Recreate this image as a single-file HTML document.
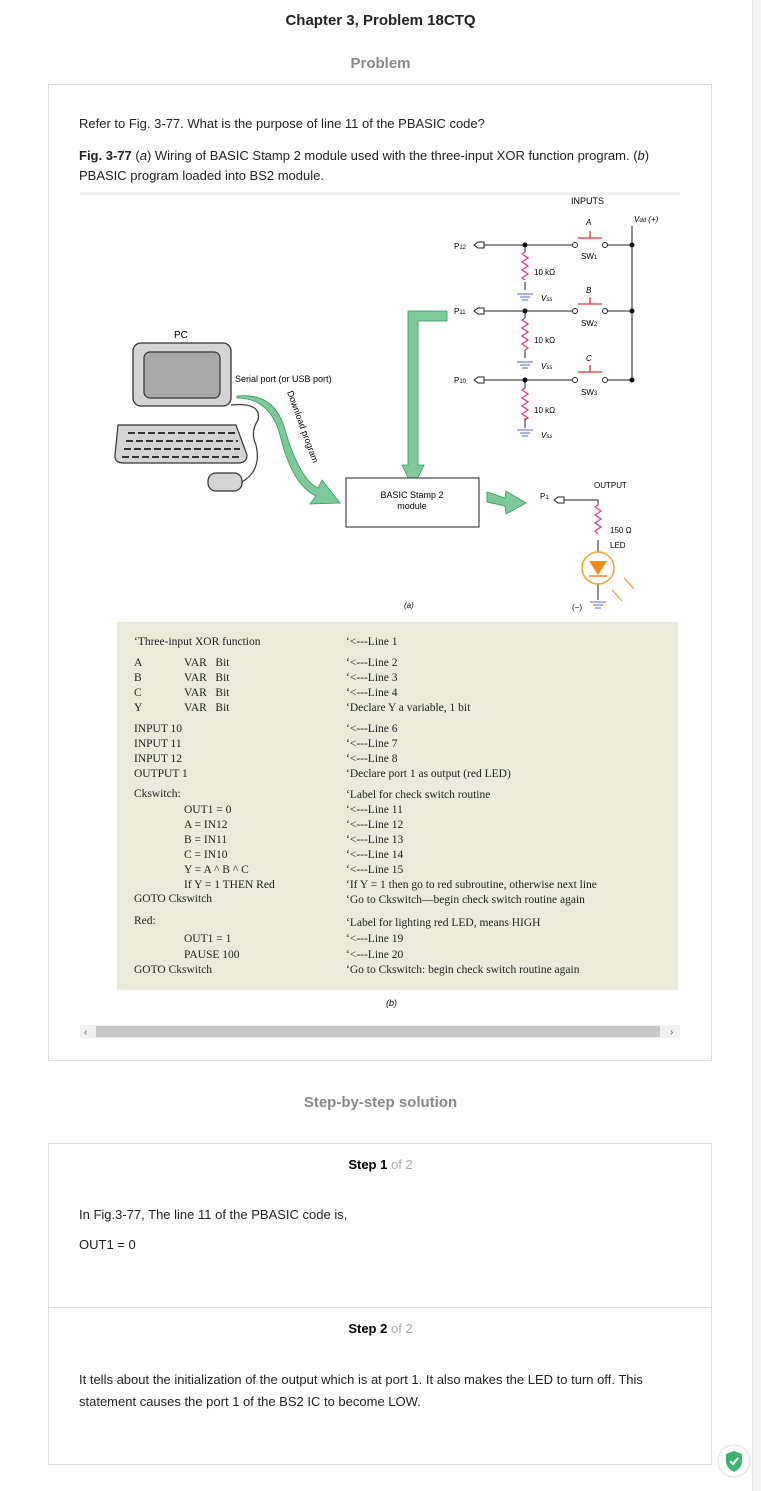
<!DOCTYPE html>
<html><head><meta charset="utf-8"><style>
body{margin:0;width:761px;height:1491px;background:#fff;font-family:"Liberation Sans",sans-serif;position:relative;overflow:hidden}
.a{position:absolute}
.code{position:absolute;font-family:"Liberation Serif",serif;font-size:11.5px;color:#222;white-space:nowrap}
</style></head><body>
<div class="a" style="left:0;top:12px;width:761px;text-align:center;font-weight:bold;font-size:15px;color:#222">Chapter 3, Problem 18CTQ</div>
<div class="a" style="left:0;top:55px;width:761px;text-align:center;font-weight:bold;font-size:15px;color:#888">Problem</div>
<div class="a" style="left:48px;top:84px;width:662px;height:975px;border:1px solid #ddd"></div>
<div class="a" style="left:79px;top:116px;font-size:13px;color:#222">Refer to Fig. 3-77. What is the purpose of line 11 of the PBASIC code?</div>
<div class="a" style="left:79px;top:146px;font-size:13px;color:#222;line-height:20px;width:600px"><b>Fig. 3-77</b> (<i>a</i>) Wiring of BASIC Stamp 2 module used with the three-input XOR function program. (<i>b</i>) PBASIC program loaded into BS2 module.</div>

<svg class="a" style="left:0;top:0" width="761" height="1060" font-family="Liberation Sans, sans-serif">
<rect x="80" y="192" width="600" height="3" fill="#f2f2f2"/>
<text x="174" y="338" font-size="10">PC</text>
<rect x="133" y="343" width="98" height="63" rx="8" fill="#d4d4d4" stroke="#333" stroke-width="1.3"/>
<rect x="144" y="352" width="76" height="46" rx="6" fill="#a8a8a8" stroke="#333" stroke-width="1.2"/>
<path d="M118 425 H236 L247 455 Q247 463 238 463 H124 Q114 463 115 455 Z" fill="#d4d4d4" stroke="#333" stroke-width="1.2"/>
<g stroke="#333" stroke-width="2" stroke-dasharray="7,3">
<line x1="128" y1="433" x2="235" y2="433"/><line x1="126" y1="441" x2="238" y2="441"/><line x1="124" y1="449" x2="240" y2="449"/><line x1="122" y1="457" x2="242" y2="457"/></g>
<rect x="208" y="473" width="34" height="18" rx="8" fill="#d4d4d4" stroke="#333" stroke-width="1.2"/>
<path d="M231 405 Q262 402 258 420 Q250 432 256 445 Q262 470 242 482" fill="none" stroke="#333" stroke-width="1.2"/>
<text x="235" y="382" font-size="9">Serial port (or USB port)</text>
<path d="M237 396 Q275 392 285 430 Q300 480 318 488 L322 480 L340 503 L310 504 L316 496 Q292 485 280 435 Q270 398 237 398 Z" fill="#7dc99a" stroke="#2e9e56" stroke-width="0.8"/>
<text transform="translate(287,392) rotate(70)" font-size="9">Download program</text>
<path d="M447 311 H408 V465 H402 L413 488 L424 465 H418 V321 H447 Z" fill="#7dc99a" stroke="#2e9e56" stroke-width="0.8"/>
<rect x="346" y="478" width="133" height="49" fill="#fff" stroke="#222" stroke-width="1"/>
<text x="412" y="498" font-size="9" text-anchor="middle">BASIC Stamp 2</text>
<text x="412" y="509" font-size="9" text-anchor="middle">module</text>
<path d="M487 492 L505 498 L506 491 L526 503 L506 514 L505 506 L487 502 Z" fill="#7dc99a" stroke="#2e9e56" stroke-width="0.8"/>
<text x="571" y="204" font-size="9">INPUTS</text>
<text x="634" y="222" font-size="8" font-style="italic">V<tspan font-size="6">dd</tspan> (+)</text>
<line x1="632" y1="226" x2="632" y2="380" stroke="#222" stroke-width="1"/>
<g font-size="8">
<text x="454" y="249">P<tspan font-size="6">12</tspan></text>
<text x="454" y="314">P<tspan font-size="6">11</tspan></text>
<text x="454" y="383">P<tspan font-size="6">10</tspan></text>
<text x="540" y="499">P<tspan font-size="6">1</tspan></text>
</g>
<g stroke="#222" stroke-width="1" fill="#fff">
<path d="M474 245 l4 -3 h6 v6 h-6 z"/><path d="M474 311 l4 -3 h6 v6 h-6 z"/><path d="M474 380 l4 -3 h6 v6 h-6 z"/><path d="M554 500 l4 -3 h6 v6 h-6 z"/>
<line x1="484" y1="245" x2="572" y2="245"/><line x1="607" y1="245" x2="632" y2="245"/>
<line x1="484" y1="311" x2="572" y2="311"/><line x1="607" y1="311" x2="632" y2="311"/>
<line x1="484" y1="380" x2="572" y2="380"/><line x1="607" y1="380" x2="632" y2="380"/>
<path d="M564 500 H598 V505" fill="none"/>
<circle cx="575" cy="245" r="2.5"/><circle cx="605" cy="245" r="2.5"/>
<circle cx="575" cy="311" r="2.5"/><circle cx="605" cy="311" r="2.5"/>
<circle cx="575" cy="380" r="2.5"/><circle cx="605" cy="380" r="2.5"/>
<line x1="525" y1="245" x2="525" y2="252"/><line x1="525" y1="282" x2="525" y2="290"/>
<line x1="525" y1="311" x2="525" y2="318"/><line x1="525" y1="350" x2="525" y2="358"/>
<line x1="525" y1="380" x2="525" y2="388"/><line x1="525" y1="418" x2="525" y2="428"/>
<line x1="598" y1="540" x2="598" y2="600"/>
</g>
<g fill="#111"><circle cx="525" cy="245" r="2.5"/><circle cx="632" cy="245" r="2.5"/><circle cx="525" cy="311" r="2.5"/><circle cx="632" cy="311" r="2.5"/><circle cx="525" cy="380" r="2.5"/><circle cx="632" cy="380" r="2.5"/></g>
<g stroke="#e0338a" stroke-width="1.2" fill="none">
<path d="M525 252 l-3 2 l6 4 l-6 4 l6 4 l-6 4 l6 4 l-6 4 l3 2"/>
<path d="M525 318 l-3 2 l6 4 l-6 4 l6 4 l-6 4 l6 4 l-6 4 l6 4 l-3 2"/>
<path d="M525 388 l-3 2 l6 4 l-6 4 l6 4 l-6 4 l6 4 l-6 4 l6 4 l-3 2"/>
<path d="M598 505 l-3 2 l6 4 l-6 4 l6 4 l-6 4 l6 4 l-6 4 l3 3"/>
</g>
<g stroke="#d33" stroke-width="1.3"><line x1="578" y1="238" x2="602" y2="238"/><line x1="590" y1="231" x2="590" y2="238"/>
<line x1="578" y1="304" x2="602" y2="304"/><line x1="590" y1="297" x2="590" y2="304"/>
<line x1="578" y1="372" x2="602" y2="372"/><line x1="590" y1="365" x2="590" y2="372"/></g>
<g font-size="8"><text x="586" y="225" font-style="italic">A</text><text x="586" y="293" font-style="italic">B</text><text x="586" y="361" font-style="italic">C</text>
<text x="581" y="259">SW<tspan font-size="6">1</tspan></text><text x="581" y="326">SW<tspan font-size="6">2</tspan></text><text x="581" y="395">SW<tspan font-size="6">3</tspan></text>
<text x="534" y="275">10 kΩ</text><text x="534" y="343">10 kΩ</text><text x="534" y="413">10 kΩ</text>
<text x="541" y="301" font-style="italic">V<tspan font-size="6">ss</tspan></text><text x="541" y="369" font-style="italic">V<tspan font-size="6">ss</tspan></text><text x="541" y="438" font-style="italic">V<tspan font-size="6">ss</tspan></text>
<text x="594" y="488">OUTPUT</text><text x="610" y="533">150 Ω</text><text x="610" y="548">LED</text>
<text x="572" y="610">(−)</text><text x="404" y="608" font-style="italic">(a)</text></g>
<g stroke="#5566cc" stroke-width="1"><line x1="517" y1="294" x2="533" y2="294"/><line x1="520" y1="297" x2="530" y2="297"/><line x1="522" y1="300" x2="528" y2="300"/>
<line x1="517" y1="362" x2="533" y2="362"/><line x1="520" y1="365" x2="530" y2="365"/><line x1="522" y1="368" x2="528" y2="368"/>
<line x1="517" y1="430" x2="533" y2="430"/><line x1="520" y1="433" x2="530" y2="433"/><line x1="522" y1="436" x2="528" y2="436"/>
<line x1="590" y1="602" x2="606" y2="602"/><line x1="593" y1="605" x2="603" y2="605"/><line x1="595" y1="608" x2="601" y2="608"/></g>
<circle cx="598" cy="568" r="16" fill="#fff" stroke="#f5a623" stroke-width="1.5"/>
<path d="M589 561 H607 L598 575 Z" fill="#f08c1e"/><line x1="589" y1="576" x2="607" y2="576" stroke="#f08c1e" stroke-width="1.5"/>
<g stroke="#f08c1e" stroke-width="1"><line x1="624" y1="578" x2="634" y2="589"/><line x1="612" y1="590" x2="622" y2="601"/></g>
<rect x="117" y="622" width="561" height="368" fill="#ecebdb"/>
<text x="386" y="1006" font-size="9" font-style="italic">(b)</text>
<rect x="80" y="1025" width="600" height="13" fill="#f1f1f1"/>
<rect x="96" y="1026" width="564" height="11" fill="#c8c8c8"/>
<text x="84" y="1035" font-size="10" fill="#555">‹</text><text x="670" y="1035" font-size="10" fill="#555">›</text>
</svg>

<div class="code" style="left:134px;top:636px">‘Three-input XOR function</div>
<div class="code" style="left:134px;top:656px;line-height:15px">A<br>B<br>C<br>Y</div>
<div class="code" style="left:184px;top:656px;line-height:15px">VAR&nbsp;&nbsp;&nbsp;Bit<br>VAR&nbsp;&nbsp;&nbsp;Bit<br>VAR&nbsp;&nbsp;&nbsp;Bit<br>VAR&nbsp;&nbsp;&nbsp;Bit</div>
<div class="code" style="left:134px;top:722px;line-height:15px">INPUT 10<br>INPUT 11<br>INPUT 12<br>OUTPUT 1</div>
<div class="code" style="left:134px;top:788px">Ckswitch:</div>
<div class="code" style="left:184px;top:803px;line-height:15px">OUT1 = 0<br>A = IN12<br>B = IN11<br>C = IN10<br>Y = A ^ B ^ C<br>If Y = 1 THEN Red</div>
<div class="code" style="left:134px;top:893px">GOTO Ckswitch</div>
<div class="code" style="left:134px;top:915px">Red:</div>
<div class="code" style="left:184px;top:931px;line-height:16px">OUT1 = 1<br>PAUSE 100</div>
<div class="code" style="left:134px;top:964px">GOTO Ckswitch</div>
<div class="code" style="left:346px;top:636px">‘&lt;---Line 1</div>
<div class="code" style="left:346px;top:656px;line-height:15px">‘&lt;---Line 2<br>‘&lt;---Line 3<br>‘&lt;---Line 4<br>‘Declare Y a variable, 1 bit</div>
<div class="code" style="left:346px;top:722px;line-height:15px">‘&lt;---Line 6<br>‘&lt;---Line 7<br>‘&lt;---Line 8<br>‘Declare port 1 as output (red LED)</div>
<div class="code" style="left:346px;top:788px;line-height:15px">‘Label for check switch routine<br>‘&lt;---Line 11<br>‘&lt;---Line 12<br>‘&lt;---Line 13<br>‘&lt;---Line 14<br>‘&lt;---Line 15<br>‘If Y = 1 then go to red subroutine, otherwise next line<br>‘Go to Ckswitch—begin check switch routine again</div>
<div class="code" style="left:346px;top:915px;line-height:16px">‘Label for lighting red LED, means HIGH<br>‘&lt;---Line 19<br>‘&lt;---Line 20</div>
<div class="code" style="left:346px;top:964px">‘Go to Ckswitch: begin check switch routine again</div>

<div class="a" style="left:0;top:1094px;width:761px;text-align:center;font-weight:bold;font-size:15px;color:#888">Step-by-step solution</div>
<div class="a" style="left:48px;top:1143px;width:662px;height:320px;border:1px solid #ddd"></div>
<div class="a" style="left:49px;top:1307px;width:662px;height:1px;background:#ddd"></div>
<div class="a" style="left:0;top:1157px;width:761px;text-align:center;font-size:13px"><b>Step 1</b> <span style="color:#aaa">of 2</span></div>
<div class="a" style="left:79px;top:1207px;font-size:13px;color:#222">In Fig.3-77, The line 11 of the PBASIC code is,</div>
<div class="a" style="left:79px;top:1237px;font-size:13px;color:#222">OUT1 = 0</div>
<div class="a" style="left:0;top:1321px;width:761px;text-align:center;font-size:13px"><b>Step 2</b> <span style="color:#aaa">of 2</span></div>
<div class="a" style="left:79px;top:1369px;width:620px;font-size:13px;color:#222;line-height:22px">It tells about the initialization of the output which is at port 1. It also makes the LED to turn off. This statement causes the port 1 of the BS2 IC to become LOW.</div>
<div class="a" style="left:752px;top:0;width:9px;height:1491px;background:#f4f4f4;border-left:1px solid #e4e4e4"></div>
<svg class="a" style="left:717px;top:1444px" width="34" height="34"><circle cx="17" cy="17" r="16" fill="#fff" stroke="#ddd"/><path d="M17 7 L25 10 V17 Q25 24 17 28 Q9 24 9 17 V10 Z" fill="#3cb371"/><path d="M13 17 L16 20 L21 14" stroke="#fff" stroke-width="2" fill="none"/></svg>
</body></html>
